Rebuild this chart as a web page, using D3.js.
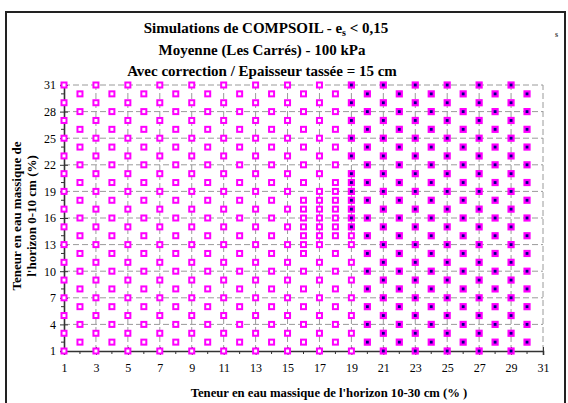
<!DOCTYPE html>
<html><head><meta charset="utf-8">
<script src="https://cdn.jsdelivr.net/npm/d3@7"></script>
<style>
html,body{margin:0;padding:0;background:#fff;}
svg text{font-family:"Liberation Serif","Times New Roman","DejaVu Serif",serif !important;}
</style></head>
<body>
<svg id="chart" width="568" height="403"></svg>
<script>
// ---- data ----
const titleLines = ["Moyenne (Les Carrés) - 100 kPa", "Avec correction / Epaisseur tassée = 15 cm"];
const xLabel = "Teneur en eau massique de l'horizon 10-30 cm (% )";
const yLabelLines = ["Teneur en eau massique de", "l'horizon 0-10 cm (%)"];
const xCols = [1,2,3,4,5,6,7,8,9,10,11,12,13,14,15,16,17,18,19,20,21,22,23,24,25,26,27,28,29,30];
const oddRows = [1,3,5,7,9,11,13,15,17,19,21,23,25,27,29,31];
const evenRows = [2,4,6,8,10,12,14,16,18,20,22,24,26,28,30];
// additional simulated points in the dense zone
const extraPoints = [[16,13],[16,15],[16,17],[17,14],[17,16],[17,18],[18,15],[18,17],[18,19],[19,14],[19,16],[19,18],[19,20]];
// lowest y that exceeds the threshold (filled marker) in each column, null = none
const filledMinY = [null,null,null,null,null,null,null,null,null,null,null,null,null,null,null,null,null,null,15,1,1,1,1,1,1,1,1,1,1,1];
const xTicks = [1,3,5,7,9,11,13,15,17,19,21,23,25,27,29,31];
const xMinorTicks = [2,4,6,8,10,12,14,16,18,20,22,24,26,28,30];
const yTicks = [1,4,7,10,13,16,19,22,25,28,31];
const yMinorTicks = [2,3,5,6,8,9,11,12,14,15,17,18,20,21,23,24,26,27,29,30];

// ---- build point list ----
const points = [];
xCols.forEach((xv, i) => {
  const rows = (xv % 2 === 1) ? oddRows : evenRows;
  rows.forEach(yv => points.push({x: xv, y: yv}));
});
extraPoints.forEach(p => points.push({x: p[0], y: p[1]}));
points.forEach(p => {
  const m = filledMinY[xCols.indexOf(p.x)];
  p.filled = (m !== null && p.y >= m);
});

const svg = d3.select("#chart");
const x = d3.scaleLinear().domain([1,31]).range([64,543]);
const y = d3.scaleLinear().domain([1,31]).range([351,85]);

// outer frame
svg.append("rect").attr("x",6).attr("y",12).attr("width",559).attr("height",420)
  .attr("fill","none").attr("stroke","#222").attr("stroke-width",2);

// gridlines
svg.append("g").selectAll("line").data(xTicks.slice(1)).join("line")
  .attr("x1",d=>x(d)).attr("x2",d=>x(d)).attr("y1",y(1)).attr("y2",y(31))
  .attr("stroke","#9a9a9a").attr("stroke-width",1).attr("stroke-dasharray","6,3");
svg.append("g").selectAll("line").data(yTicks.slice(1)).join("line")
  .attr("y1",d=>y(d)).attr("y2",d=>y(d)).attr("x1",x(1)).attr("x2",x(31))
  .attr("stroke","#9a9a9a").attr("stroke-width",1).attr("stroke-dasharray","6,3");

// axes
const xAxis = svg.append("g").attr("transform",`translate(0,${y(1)})`)
  .call(d3.axisBottom(x).tickValues(xTicks).tickSize(4).tickPadding(8).tickFormat(d3.format("d")));
xAxis.attr("font-family",null);
xAxis.select(".domain").attr("stroke","#333").attr("stroke-width",1.6);
xAxis.selectAll(".tick line").attr("y1",-4).attr("y2",4).attr("stroke","#333");
xAxis.selectAll(".tick text").attr("font-size",12).attr("fill","#000");
svg.append("g").selectAll("line").data(xMinorTicks).join("line")
  .attr("x1",d=>x(d)).attr("x2",d=>x(d)).attr("y1",y(1)).attr("y2",y(1)+3)
  .attr("stroke","#333");

const yAxis = svg.append("g").attr("transform",`translate(${x(1)},0)`)
  .call(d3.axisLeft(y).tickValues(yTicks).tickSize(4).tickPadding(4).tickFormat(d3.format("d")));
yAxis.attr("font-family",null);
yAxis.select(".domain").attr("stroke","#333").attr("stroke-width",1.6);
yAxis.selectAll(".tick line").attr("x1",-4).attr("x2",4).attr("stroke","#333");
yAxis.selectAll(".tick text").attr("font-size",12).attr("fill","#000");
svg.append("g").selectAll("line").data(yMinorTicks).join("line")
  .attr("y1",d=>y(d)).attr("y2",d=>y(d)).attr("x1",x(1)-3).attr("x2",x(1))
  .attr("stroke","#333");

// markers
const ms = 5;
svg.append("g").selectAll("rect").data(points.filter(p=>!p.filled)).join("rect")
  .attr("x",d=>x(d.x)-ms/2).attr("y",d=>y(d.y)-ms/2).attr("width",ms).attr("height",ms)
  .attr("fill","#fff").attr("stroke","#ff00ff").attr("stroke-width",2);
svg.append("g").selectAll("rect").data(points.filter(p=>p.filled)).join("rect")
  .attr("x",d=>x(d.x)-ms/2).attr("y",d=>y(d.y)-ms/2).attr("width",ms).attr("height",ms)
  .attr("fill","#000080").attr("stroke","#ff00ff").attr("stroke-width",2.2);

// titles
const t1 = svg.append("text").attr("x",266).attr("y",33).attr("text-anchor","middle")
  .attr("font-size",15).attr("font-weight","bold");
t1.append("tspan").text("Simulations de COMPSOIL - e");
t1.append("tspan").attr("font-size",10).attr("dy",3).text("s");
t1.append("tspan").attr("dy",-3).text(" < 0,15");
svg.append("g").selectAll("text").data(titleLines).join("text")
  .attr("x",262).attr("y",(d,i)=>55+i*21).attr("text-anchor","middle")
  .attr("font-size",15).attr("font-weight","bold").text(d=>d);
svg.append("text").attr("x",555).attr("y",37).attr("font-size",8).attr("font-weight","bold").attr("fill","#444").text("s");

// axis titles
svg.append("text").attr("x",329).attr("y",397).attr("text-anchor","middle")
  .attr("font-size",12.7).attr("font-weight","bold").text(xLabel);
svg.append("g").selectAll("text").data(yLabelLines).join("text")
  .attr("transform",(d,i)=>`translate(${21+i*15},216) rotate(-90)`)
  .attr("text-anchor","middle").attr("font-size",13).attr("font-weight","bold").text(d=>d);
</script>
</body></html>
